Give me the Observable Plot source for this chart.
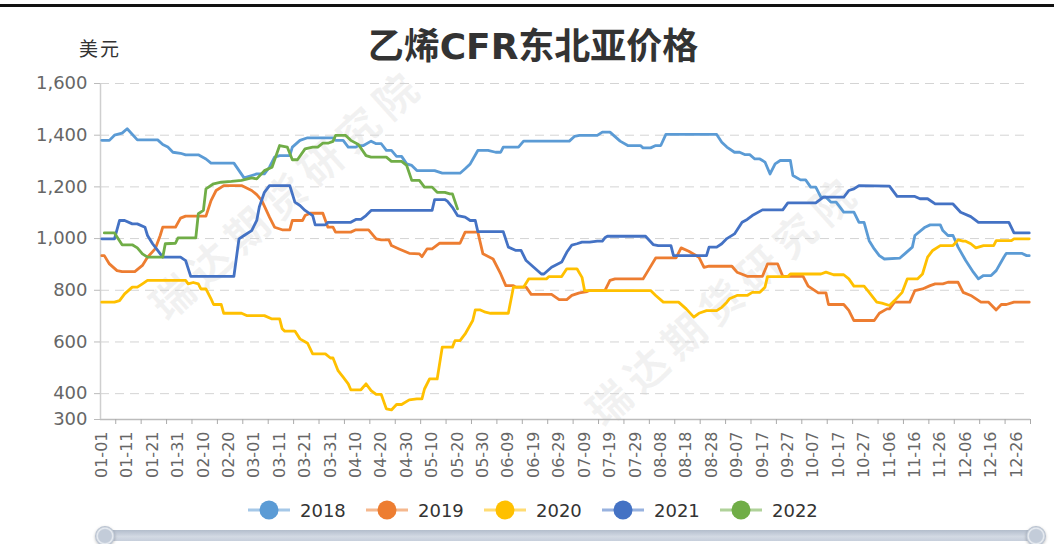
<!DOCTYPE html>
<html><head><meta charset="utf-8">
<script src="https://cdn.jsdelivr.net/npm/d3@7"></script>
<script src="https://cdn.jsdelivr.net/npm/@observablehq/plot@0.6"></script>
<style>
html,body{margin:0;padding:0;background:#fff;}
body{width:1054px;height:544px;overflow:hidden;position:relative;font-family:"DejaVu Sans","Noto Sans CJK SC",sans-serif;}
#topline{position:absolute;left:0;top:4px;width:1054px;height:3px;background:#111;}
#title{position:absolute;left:0;width:1066px;top:29px;text-align:center;font-size:36px;line-height:36px;font-weight:bold;color:#333;font-family:"DejaVu Sans","Noto Sans CJK SC",sans-serif;}
#unit{position:absolute;left:79px;top:38px;font-size:19px;line-height:20px;letter-spacing:2px;color:#333;font-family:"Noto Sans CJK SC",sans-serif;}
.wm{position:absolute;transform:translate(-50%,-50%) rotate(-42deg);font-size:42px;letter-spacing:8px;font-weight:bold;color:rgba(150,150,150,0.12);white-space:nowrap;font-family:"Noto Sans CJK SC",sans-serif;}
#chart{position:absolute;left:0;top:60px;}
.lg{position:absolute;top:499px;height:22px;display:flex;align-items:center;font-size:18px;color:#333;}
.lg span{margin-left:10px;}
#bar{position:absolute;left:105px;top:530px;width:932px;height:11px;border-radius:4px;background:linear-gradient(#b3bdcc,#d3dae4 60%,#c6cedb);}
.hd{position:absolute;width:20px;height:20px;border-radius:50%;background:radial-gradient(circle,#c3ccd9 45%,#e9edf2 55%,#aab5c5 70%);box-shadow:0 1px 3px rgba(0,0,0,0.25);}
</style></head>
<body>
<div id="topline"></div>
<div class="wm" style="left:285px;top:192px">瑞达期货研究院</div>
<div class="wm" style="left:722px;top:298px">瑞达期货研究院</div>
<div id="title">乙烯CFR东北亚价格</div>
<div id="unit">美元</div>
<div id="chart"></div>
<div id="legend"></div>
<div id="bar"></div>
<div class="hd" style="left:95px;top:526px"></div>
<div class="hd" style="left:1026px;top:526px"></div>
<script>
// ---- data ----
const years = ["2018", "2019", "2020", "2021", "2022"];
const colors = ["#5B9BD5", "#ED7D31", "#FFC000", "#4472C4", "#70AD47"];
const yTicks = [300, 400, 600, 800, 1000, 1200, 1400, 1600];
const xTickLabels = ["01-01","01-11","01-21","01-31","02-10","02-20","03-01","03-11","03-21","03-31","04-10","04-20","04-30","05-10","05-20","05-30","06-09","06-19","06-29","07-09","07-19","07-29","08-08","08-18","08-28","09-07","09-17","09-27","10-07","10-17","10-27","11-06","11-16","11-26","12-06","12-16","12-26"];
// daily categories 01-01 .. 12-31 (366 days)
const days = d3.timeDays(new Date(2020, 0, 1), new Date(2021, 0, 1)).map(d3.timeFormat("%m-%d"));

// series vertices: [day index in categories, price]
const s2018 = [[0,1380],[3,1380],[5,1400],[8,1408],[10,1425],[14,1382],[22,1382],[24,1364],[26,1354],[28,1334],[31,1330],[33,1324],[38,1324],[41,1308],[43,1292],[52,1292],[56,1235],[59,1244],[61,1250],[64,1250],[66,1276],[68,1315],[70,1321],[74,1321],[75,1354],[78,1380],[81,1390],[91,1390],[92,1380],[95,1380],[97,1354],[100,1354],[101,1360],[103,1360],[106,1377],[108,1367],[110,1367],[112,1341],[114,1341],[116,1318],[118,1318],[120,1289],[122,1283],[124,1263],[131,1263],[134,1253],[141,1253],[143,1270],[145,1289],[148,1341],[152,1341],[155,1334],[157,1334],[158,1354],[164,1354],[166,1377],[184,1377],[186,1395],[188,1399],[195,1399],[197,1412],[200,1412],[204,1377],[207,1360],[212,1360],[213,1351],[216,1351],[218,1360],[220,1360],[222,1403],[242,1403],[244,1373],[246,1354],[249,1334],[251,1334],[253,1325],[255,1325],[257,1308],[259,1308],[261,1296],[263,1250],[265,1289],[267,1302],[271,1302],[272,1244],[275,1227],[277,1227],[279,1199],[281,1199],[283,1160],[285,1160],[287,1141],[289,1141],[292,1102],[296,1102],[298,1063],[300,1063],[302,992],[304,960],[306,934],[308,921],[314,924],[316,941],[319,967],[320,1012],[324,1044],[326,1053],[330,1053],[331,1031],[333,1012],[335,1012],[337,967],[340,915],[343,870],[345,844],[347,857],[350,857],[352,876],[355,928],[356,943],[362,943],[364,934],[365,934]];
const s2019 = [[0,934],[1,934],[3,902],[6,876],[8,872],[13,872],[16,896],[18,928],[21,960],[23,1012],[24,1044],[29,1044],[31,1079],[33,1087],[41,1087],[43,1147],[45,1186],[48,1205],[55,1205],[59,1186],[61,1170],[63,1147],[66,1083],[68,1044],[71,1034],[74,1034],[75,1070],[79,1070],[80,1089],[82,1098],[87,1098],[89,1044],[91,1044],[92,1025],[98,1025],[100,1034],[105,1034],[108,999],[110,995],[113,995],[114,973],[117,960],[121,943],[125,941],[126,930],[128,960],[130,960],[133,982],[141,982],[143,1025],[148,1025],[150,941],[154,921],[157,863],[159,818],[162,818],[163,812],[167,812],[169,784],[177,784],[180,764],[183,764],[185,780],[188,790],[191,795],[192,799],[198,799],[200,838],[202,844],[213,844],[215,876],[218,925],[226,925],[228,964],[231,951],[235,928],[237,889],[239,893],[248,893],[250,870],[254,854],[260,854],[262,902],[266,902],[268,854],[276,854],[278,816],[282,790],[285,790],[286,745],[292,745],[294,722],[296,683],[304,683],[306,711],[309,728],[310,728],[312,754],[318,754],[320,799],[323,805],[326,818],[328,825],[331,825],[333,831],[337,831],[339,792],[342,780],[346,754],[349,754],[352,724],[354,745],[356,745],[359,754],[365,754]];
const s2020 = [[0,754],[5,754],[7,760],[9,786],[12,812],[14,812],[16,825],[18,838],[33,838],[34,825],[36,830],[38,825],[39,805],[41,805],[43,767],[44,745],[47,745],[48,711],[55,711],[57,702],[64,702],[67,689],[70,689],[71,651],[72,642],[76,642],[78,612],[81,595],[83,554],[88,554],[90,538],[91,538],[93,489],[95,464],[97,438],[98,415],[102,415],[104,438],[106,412],[108,397],[110,397],[112,341],[114,337],[116,358],[118,358],[121,376],[124,380],[126,380],[127,418],[129,457],[132,457],[134,580],[138,580],[139,605],[141,605],[143,631],[146,683],[147,724],[149,724],[151,715],[153,711],[160,711],[162,812],[166,812],[168,844],[175,844],[176,853],[181,853],[183,883],[187,883],[189,850],[190,799],[216,799],[218,780],[221,754],[227,754],[230,728],[233,696],[235,711],[238,721],[242,721],[244,734],[246,754],[247,767],[250,780],[254,780],[256,792],[259,792],[261,812],[262,853],[270,853],[271,863],[283,863],[285,870],[288,860],[292,860],[294,844],[296,816],[300,816],[302,792],[305,754],[307,750],[310,741],[312,760],[315,792],[317,844],[321,844],[323,863],[325,928],[327,954],[330,973],[335,973],[337,995],[339,990],[340,990],[342,980],[344,964],[347,973],[351,973],[352,992],[358,992],[359,999],[365,999]];
const s2021 = [[0,999],[5,999],[7,1070],[9,1070],[12,1057],[14,1057],[17,1044],[18,1012],[20,980],[22,954],[24,928],[31,928],[33,915],[35,854],[52,854],[54,999],[56,1012],[59,1031],[61,1070],[62,1122],[64,1179],[66,1205],[74,1205],[76,1141],[78,1128],[80,1109],[83,1089],[84,1053],[88,1053],[89,1063],[98,1063],[100,1074],[102,1074],[104,1089],[106,1109],[130,1109],[131,1151],[135,1151],[136,1145],[138,1121],[140,1089],[143,1083],[145,1070],[147,1070],[148,1027],[158,1027],[160,967],[163,954],[165,954],[167,915],[170,889],[173,863],[174,863],[177,889],[181,909],[183,947],[185,975],[187,980],[189,986],[192,986],[195,990],[197,990],[198,1003],[199,1009],[214,1009],[217,977],[219,973],[224,973],[225,934],[238,934],[239,967],[242,967],[244,980],[246,1000],[249,1018],[252,1063],[254,1074],[256,1089],[260,1111],[268,1111],[270,1138],[281,1138],[284,1160],[292,1160],[294,1186],[296,1192],[298,1205],[310,1203],[313,1163],[320,1163],[322,1154],[325,1154],[328,1134],[335,1134],[338,1102],[342,1085],[345,1063],[357,1063],[359,1022],[365,1022]];
const s2022 = [[1,1022],[5,1022],[8,976],[12,976],[14,964],[16,941],[18,928],[24,928],[25,980],[29,982],[30,1003],[37,1003],[38,1096],[40,1109],[41,1192],[44,1212],[47,1218],[51,1221],[55,1225],[59,1235],[61,1231],[64,1263],[67,1276],[70,1360],[73,1354],[75,1305],[77,1305],[80,1347],[83,1354],[85,1354],[87,1369],[89,1369],[91,1376],[92,1399],[96,1399],[98,1380],[101,1364],[104,1321],[106,1315],[112,1315],[114,1299],[118,1299],[120,1283],[122,1225],[125,1225],[127,1199],[130,1199],[132,1179],[135,1179],[137,1173],[138,1173],[140,1115]];

const seriesData = [s2018, s2019, s2020, s2021, s2022];
const rows = seriesData.flatMap((s, k) => s.map(([i, v]) => ({year: years[k], x: i + 0.5, date: days[i], v})));
const labelPos = xTickLabels.map(l => days.indexOf(l) + 0.5);
const tickBounds = labelPos.map(p => p + 5.5).filter(p => p < days.length).concat([days.length]);
const fmt = d3.format(",d");

const chart = Plot.plot({
  width: 1054, height: 430,
  marginTop: 23, marginBottom: 71, marginLeft: 100, marginRight: 24,
  x: {type: "linear", domain: [0, days.length]},
  y: {domain: [300, 1600]},
  color: {domain: years, range: colors},
  style: {background: "transparent", fontFamily: "DejaVu Sans, sans-serif", overflow: "visible"},
  marks: [
    Plot.gridY({ticks: yTicks.slice(1), stroke: "#d4d4d4", strokeOpacity: 1, strokeDasharray: "9,6", strokeWidth: 1}),
    Plot.ruleY([300], {stroke: "#bcbcbc", strokeWidth: 1.5}),
    Plot.ruleX([0], {stroke: "#cfcfcf", strokeWidth: 1.5}),
    Plot.axisY({ticks: yTicks, tickFormat: d => fmt(d), tickSize: 6, tickPadding: 7, fontSize: 18, fill: "#666", stroke: "#bbb", label: null}),
    Plot.axisX({ticks: labelPos, tickFormat: d => days[Math.round(d - 0.5)], tickRotate: -90, tickSize: 0, tickPadding: 12, fontSize: 16, fill: "#666", label: null}),
    Plot.axisX({ticks: tickBounds, tickSize: 5, text: null, stroke: "#aaa", label: null}),
    Plot.line(rows, {x: "x", y: "v", stroke: "year", z: "year", strokeWidth: 2.8, strokeLinejoin: "round"})
  ]
});
document.getElementById("chart").appendChild(chart);

// legend
const lg = document.getElementById("legend");
years.forEach((y, k) => {
  const d = document.createElement("div");
  d.className = "lg";
  d.style.left = (248 + 118 * k) + "px";
  d.innerHTML = `<svg width="42" height="22"><line x1="0" x2="42" y1="11" y2="11" stroke="${colors[k]}" stroke-opacity="0.55" stroke-width="3"/><circle cx="21" cy="11" r="9.5" fill="${colors[k]}"/></svg><span>${y}</span>`;
  lg.appendChild(d);
});
</script>
</body></html>
